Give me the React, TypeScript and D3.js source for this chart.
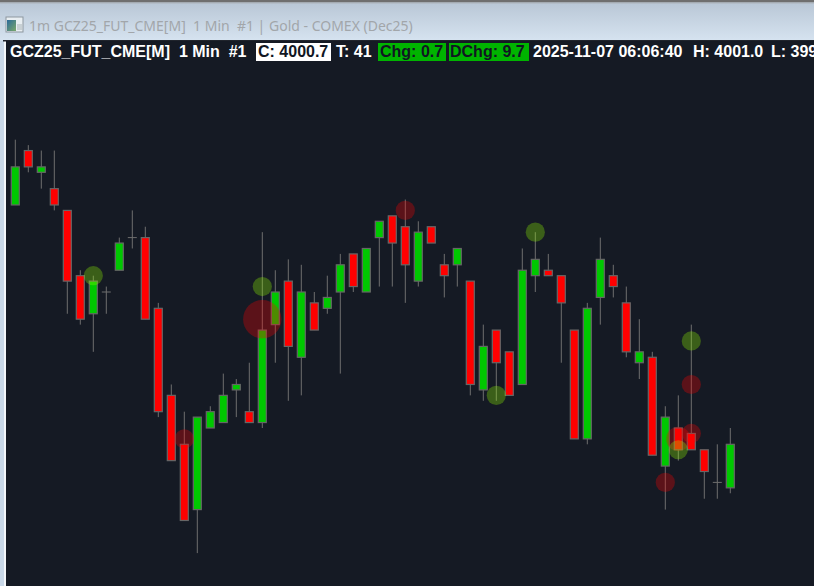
import React from "react";
import * as d3 from "d3";

const opens = [4005.1,4006.1,4005.7,4005.4,4005.0,4003.8,4003.1,4003.5,4003.9,4004.5,4004.5,4003.2,4001.6,4000.7,3999.5,4001.0,4001.1,4001.7,4001.3,4001.1,4002.9,4003.7,4002.3,4003.3,4003.2,4003.5,4004.2,4003.5,4004.5,4004.9,4004.7,4003.7,4004.7,4004.0,4004.0,4003.7,4001.7,4002.8,4002.4,4001.8,4003.8,4003.9,4003.8,4002.8,4000.8,4003.4,4003.8,4003.3,4002.2,4002.3,4000.3,4001.0,4000.9,4000.6,4000.0,3999.9];
const highs = [4006.3,4006.2,4006.1,4006.1,4005.0,4003.9,4003.8,4003.6,4004.5,4005.0,4004.7,4003.3,4001.8,4001.3,4001.2,4001.4,4002.0,4001.9,4002.2,4004.6,4003.9,4004.1,4004.0,4003.5,4003.8,4004.2,4004.2,4004.3,4004.8,4004.9,4005.2,4004.8,4004.7,4004.2,4004.3,4003.7,4002.9,4002.8,4002.4,4004.3,4004.6,4004.2,4003.8,4002.8,4003.3,4004.5,4004.0,4003.6,4003.0,4002.4,4001.4,4001.6,4002.9,4000.6,4000.7,4001.0];
const lows = [4005.1,4005.7,4005.4,4005.0,4003.1,4002.9,4002.4,4003.1,4003.9,4004.3,4003.0,4001.2,4000.4,3999.3,3998.7,4001.0,4001.1,4001.2,4001.1,4001.0,4002.2,4001.5,4001.6,4002.8,4003.1,4002.0,4003.5,4003.5,4003.6,4003.6,4003.3,4003.6,4004.4,4003.4,4003.6,4001.6,4001.5,4001.5,4001.6,4001.8,4003.5,4003.8,4002.2,4000.8,4000.7,4002.9,4003.4,4002.3,4001.9,4000.5,3999.5,4000.4,4000.6,3999.7,3999.7,3999.8];
const closes = [4005.8,4005.8,4005.8,4005.1,4003.7,4003.0,4003.7,4003.5,4004.4,4004.5,4003.0,4001.3,4000.4,3999.3,4001.2,4001.3,4001.6,4001.8,4001.1,4002.8,4003.5,4002.5,4003.5,4002.8,4003.4,4004.0,4003.6,4004.3,4004.8,4004.4,4004.0,4004.6,4004.4,4003.8,4004.3,4001.8,4002.5,4002.2,4001.6,4003.9,4004.1,4003.8,4003.3,4000.8,4003.2,4004.1,4003.6,4002.4,4002.4,4000.5,4001.2,4000.6,4000.6,4000.2,4000.0,4000.7];

const bubbleBars = [6,19,19,13,30,37,40,52,52,52,51,51,50];
const bubblePrices = [4003.8,4003.0,4003.6,4000.8,4005.0,4001.6,4004.6,4002.6,4001.8,4000.9,4000.8,4000.6,4000.0];
const bubbleSizes = [1,4,1,1,1,1,1,1,1,1,1.6,1,1];
const bubbleSides = ["buy","sell","buy","sell","sell","buy","buy","buy","sell","sell","sell","buy","sell"];

const titleText = "1m GCZ25_FUT_CME[M]  1 Min  #1 | Gold - COMEX (Dec25)";
const headerParts = [
  { text: "GCZ25_FUT_CME[M]  1 Min  #1", x: 10, kind: "plain" },
  { text: "C: 4000.7", x: 258, kind: "white", bx: 256, bw: 75 },
  { text: "T: 41", x: 336, kind: "plain" },
  { text: "Chg: 0.7", x: 380, kind: "green", bx: 378, bw: 68 },
  { text: "DChg: 9.7", x: 450, kind: "green", bx: 449, bw: 80 },
  { text: "2025-11-07 06:06:40", x: 533, kind: "plain" },
  { text: "H: 4001.0", x: 693, kind: "plain" },
  { text: "L: 3999.8", x: 771, kind: "plain" },
];

const W = 814, H = 586;
const x = d3.scaleLinear().domain([0, 55]).range([15.3, 730.3]);
const y = d3.scaleLinear().domain([3996, 4008]).range([700, 47.2]);
const rScale = d3.scaleSqrt().domain([0, 1]).range([0, 9.6]);

export default function App() {
  const font = "'Liberation Sans', Arial, sans-serif";
  return (
    <svg width={W} height={H} viewBox={`0 0 ${W} ${H}`} style={{ position: "fixed", left: 0, top: 0, display: "block" }}>
      <defs>
        <linearGradient id="tb" x1="0" y1="0" x2="0" y2="1">
          <stop offset="0" stopColor="#b9c7d6" />
          <stop offset="1" stopColor="#d6e3f0" />
        </linearGradient>
        <linearGradient id="ic" x1="0" y1="0" x2="1" y2="1">
          <stop offset="0" stopColor="#2a6a9a" />
          <stop offset="1" stopColor="#7aa86a" />
        </linearGradient>
      </defs>
      <rect width={W} height={H} fill="#c9d8e8" />
      <rect y={3} width={W} height={38} fill="url(#tb)" />
      <rect width={W} height={2.5} fill="#6f6f6f" />
      <rect y={2.5} width={W} height={1} fill="#aeb4ba" />
      <rect x={4} y={41} width={2} height={H - 41} fill="#f4f7fa" />
      <rect x={3} y={40} width={W} height={1.5} fill="#20242c" />
      <rect x={6} y={41} width={W - 6} height={H - 41} fill="#151a24" />

      <rect x={6} y={17} width={17} height={15} fill="#e8eef2" stroke="#8d979f" />
      <rect x={7} y={20} width={9} height={11} fill="url(#ic)" />
      <rect x={17} y={24} width={5} height={6} fill="#c8d0d4" />
      <text x={29} y={31} fontFamily="'Noto Sans', 'Open Sans', sans-serif" fontSize={14} fill="#a2a6aa" style={{ whiteSpace: "pre" }}>
        {titleText}
      </text>

      {headerParts.map((p) => (
        <g key={p.text}>
          {p.kind !== "plain" && (
            <rect x={p.bx} y={43} width={p.bw} height={18} fill={p.kind === "white" ? "#ffffff" : "#00b400"} />
          )}
          <text
            x={p.x}
            y={57}
            fontFamily={font}
            fontWeight="bold"
            fontSize={16}
            fill={p.kind === "plain" ? "#ffffff" : "#111622"}
            style={{ whiteSpace: "pre" }}
          >
            {p.text}
          </text>
        </g>
      ))}

      {opens.map((o, i) => {
        const c = closes[i];
        const up = c > o;
        const top = y(Math.max(o, c));
        const bottom = y(Math.min(o, c));
        return (
          <g key={i}>
            <line x1={x(i)} x2={x(i)} y1={y(highs[i])} y2={y(lows[i])} stroke="#6e6e6e" strokeWidth={1} />
            {o === c ? (
              <line x1={x(i) - 4.5} x2={x(i) + 4.5} y1={top} y2={top} stroke="#6e6e6e" strokeWidth={1} />
            ) : (
              <rect
                x={x(i) - 4}
                y={top}
                width={8}
                height={bottom - top}
                fill={up ? "#00c800" : "#ff0000"}
                stroke="#666666"
                strokeWidth={1.2}
              />
            )}
          </g>
        );
      })}

      {bubbleBars.map((b, i) => (
        <circle
          key={i}
          cx={x(b)}
          cy={y(bubblePrices[i])}
          r={rScale(bubbleSizes[i])}
          fill={bubbleSides[i] === "buy" ? "#96ff00" : "#ff0000"}
          fillOpacity={0.3}
        />
      ))}
    </svg>
  );
}
